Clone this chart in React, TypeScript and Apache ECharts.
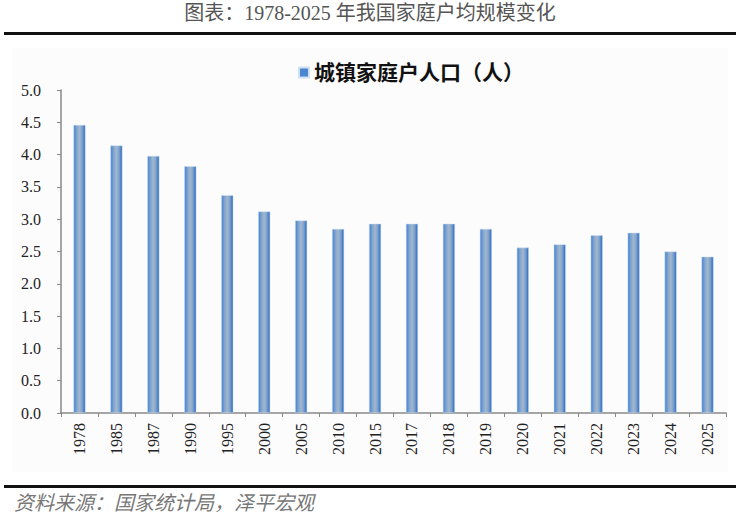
import React, { useEffect, useRef } from "react";
import * as echarts from "echarts";

const categories = ["1978", "1985", "1987", "1990", "1995", "2000", "2005", "2010", "2015", "2017", "2018", "2019", "2020", "2021", "2022", "2023", "2024", "2025"];
const householdSize = [4.46, 4.14, 3.98, 3.82, 3.37, 3.12, 2.98, 2.85, 2.93, 2.93, 2.93, 2.85, 2.56, 2.61, 2.75, 2.79, 2.5, 2.42];
const seriesName = "城镇家庭户人口（人）";
const titleText = "图表：1978-2025 年我国家庭户均规模变化";
const sourceText = "资料来源：国家统计局，泽平宏观";

const serif = "'Liberation Serif', 'Noto Sans CJK SC', serif";

export default function App() {
  const ref = useRef<HTMLDivElement>(null);
  useEffect(() => {
    if (!ref.current) return;
    const chart = echarts.init(ref.current, null, { renderer: "svg" });
    const barColor = new echarts.graphic.LinearGradient(0, 0, 1, 0, [
      { offset: 0, color: "#3f80d4" },
      { offset: 0.25, color: "#7da3cf" },
      { offset: 0.5, color: "#a3b7cd" },
      { offset: 0.75, color: "#7a9fcc" },
      { offset: 1, color: "#2466c0" },
    ]);
    chart.setOption({
      animation: false,
      backgroundColor: "#ffffff",
      graphic: [
        { type: "rect", shape: { x: 12, y: 48, width: 716, height: 424 }, style: { fill: "#fcfcfc" }, z: -10 },
        {
          type: "text",
          left: "center",
          top: 3,
          style: { text: titleText, fontSize: 20, fill: "#555555", fontFamily: serif },
        },
        { type: "rect", shape: { x: 4, y: 32, width: 732, height: 3 }, style: { fill: "#111111" } },
        { type: "rect", shape: { x: 4, y: 485, width: 732, height: 3 }, style: { fill: "#111111" } },
        {
          type: "text",
          left: 14,
          top: 493,
          style: { text: sourceText, fontSize: 20, fill: "#777777", fontStyle: "italic", fontFamily: serif },
        },
      ],
      legend: {
        top: 57,
        left: 293,
        itemWidth: 10,
        itemHeight: 10,
        itemGap: 4,
        icon: "rect",
        textStyle: { fontSize: 21, fontWeight: "bold", color: "#111", fontFamily: serif },
        data: [{ name: seriesName, itemStyle: { color: "#4a86d0" } }],
      },
      grid: { left: 61, right: 14, top: 90, bottom: 108, containLabel: false },
      xAxis: {
        type: "category",
        data: categories,
        axisLine: { lineStyle: { color: "#888888", width: 1.5 } },
        axisTick: { show: true, length: 4, alignWithLabel: false, lineStyle: { color: "#888888" } },
        axisLabel: { rotate: 90, margin: 10, fontSize: 16, color: "#222", fontFamily: serif },
      },
      yAxis: {
        type: "value",
        min: 0,
        max: 5,
        interval: 0.5,
        splitLine: { show: false },
        axisLine: { show: true, lineStyle: { color: "#888888", width: 1.5 } },
        axisTick: { show: true, length: 4, lineStyle: { color: "#888888" } },
        axisLabel: {
          margin: 20,
          fontSize: 16,
          color: "#222",
          fontFamily: serif,
          formatter: (v: number) => v.toFixed(1),
        },
      },
      series: [
        {
          name: seriesName,
          type: "bar",
          data: householdSize,
          barWidth: 12,
          itemStyle: { color: barColor, borderColor: "#cfe0f3", borderWidth: 0.5 },
        },
      ],
    });
    return () => chart.dispose();
  }, []);
  return <div ref={ref} style={{ position: "fixed", left: 0, top: 0, width: 740, height: 521 }} />;
}
